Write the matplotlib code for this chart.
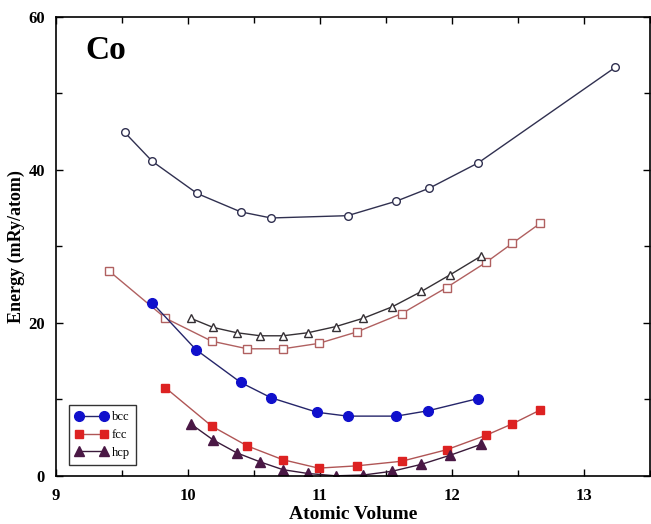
import matplotlib
matplotlib.use('Agg')
import matplotlib.pyplot as plt
from matplotlib.ticker import MultipleLocator

plt.rcParams['font.family'] = ['Liberation Serif', 'DejaVu Serif']

# upper curves (open markers)
bcc_open_x = [9.52, 9.73, 10.07, 10.40, 10.63, 11.21, 11.58, 11.83, 12.20, 13.24]
bcc_open_y = [44.9, 41.1, 36.9, 34.5, 33.7, 34.0, 35.9, 37.6, 40.9, 53.4]

fcc_open_x = [9.40, 9.83, 10.18, 10.45, 10.72, 10.99, 11.28, 11.62, 11.96, 12.26, 12.46, 12.67]
fcc_open_y = [26.8, 20.6, 17.6, 16.6, 16.6, 17.3, 18.8, 21.2, 24.6, 27.9, 30.4, 33.0]

hcp_open_x = [10.02, 10.19, 10.37, 10.55, 10.72, 10.91, 11.12, 11.33, 11.55, 11.77, 11.99, 12.22]
hcp_open_y = [20.6, 19.4, 18.7, 18.3, 18.3, 18.7, 19.5, 20.6, 22.1, 24.1, 26.3, 28.7]

# lower curves (filled markers)
bcc_x = [9.73, 10.06, 10.40, 10.63, 10.98, 11.21, 11.58, 11.82, 12.20]
bcc_y = [22.6, 16.5, 12.2, 10.2, 8.3, 7.8, 7.8, 8.5, 10.1]

fcc_x = [9.83, 10.18, 10.45, 10.72, 10.99, 11.28, 11.62, 11.96, 12.26, 12.46, 12.67]
fcc_y = [11.5, 6.5, 3.9, 2.1, 1.0, 1.3, 1.9, 3.4, 5.3, 6.8, 8.6]

hcp_x = [10.02, 10.19, 10.37, 10.55, 10.72, 10.91, 11.12, 11.33, 11.55, 11.77, 11.99, 12.22]
hcp_y = [6.8, 4.7, 3.0, 1.8, 0.8, 0.3, 0.0, 0.1, 0.6, 1.5, 2.7, 4.1]

fig = plt.figure(figsize=(6.51, 5.24), dpi=100)
ax = fig.add_axes([0.086, 0.092, 0.912, 0.876])

ax.plot(bcc_open_x, bcc_open_y, color='#303050', lw=1.0, marker='o', ms=5.5,
        mfc='white', mec='#303050', mew=1.0)
ax.plot(fcc_open_x, fcc_open_y, color='#b06060', lw=1.0, marker='s', ms=5.5,
        mfc='white', mec='#b06060', mew=1.0)
ax.plot(hcp_open_x, hcp_open_y, color='#353035', lw=1.0, marker='^', ms=6,
        mfc='white', mec='#353035', mew=1.0)

ax.plot(bcc_x, bcc_y, color='#25256a', lw=1.0, marker='o', ms=7,
        mfc='#1010cc', mec='#1010cc', label='bcc')
ax.plot(fcc_x, fcc_y, color='#b05555', lw=1.0, marker='s', ms=6,
        mfc='#dd2222', mec='#dd2222', label='fcc')
ax.plot(hcp_x, hcp_y, color='#3a1a3a', lw=1.0, marker='^', ms=6.5,
        mfc='#4a1845', mec='#4a1845', label='hcp')

ax.set_xlim(9, 13.5)
ax.set_ylim(0, 60)
ax.xaxis.set_major_locator(MultipleLocator(1))
ax.xaxis.set_minor_locator(MultipleLocator(0.5))
ax.yaxis.set_major_locator(MultipleLocator(20))
ax.yaxis.set_minor_locator(MultipleLocator(10))
ax.tick_params(which='both', direction='in', top=True, right=True, width=1)
ax.tick_params(which='major', length=5, labelsize=12, pad=8)
ax.tick_params(axis='x', which='major', pad=9)
ax.tick_params(which='minor', length=4)
for lab in ax.get_xticklabels() + ax.get_yticklabels():
    lab.set_fontweight('bold')
for sp in ax.spines.values():
    sp.set_linewidth(1.2)

ax.set_xlabel('Atomic Volume', fontsize=14, fontweight='bold', labelpad=1)
ax.set_ylabel('Energy (mRy/atom)', fontsize=13, fontweight='bold', labelpad=2)

ax.text(0.05, 0.96, 'Co', transform=ax.transAxes, fontsize=24,
        fontweight='bold', va='top', ha='left')

leg = ax.legend(loc='lower left', bbox_to_anchor=(0.012, 0.01), numpoints=2,
                fontsize=9, frameon=True, fancybox=False, handlelength=2.6,
                handletextpad=0.3, borderpad=0.5, labelspacing=0.45)
leg.get_frame().set_edgecolor('black')
leg.get_frame().set_linewidth(1.0)

fig.savefig('out.png', dpi=100)
